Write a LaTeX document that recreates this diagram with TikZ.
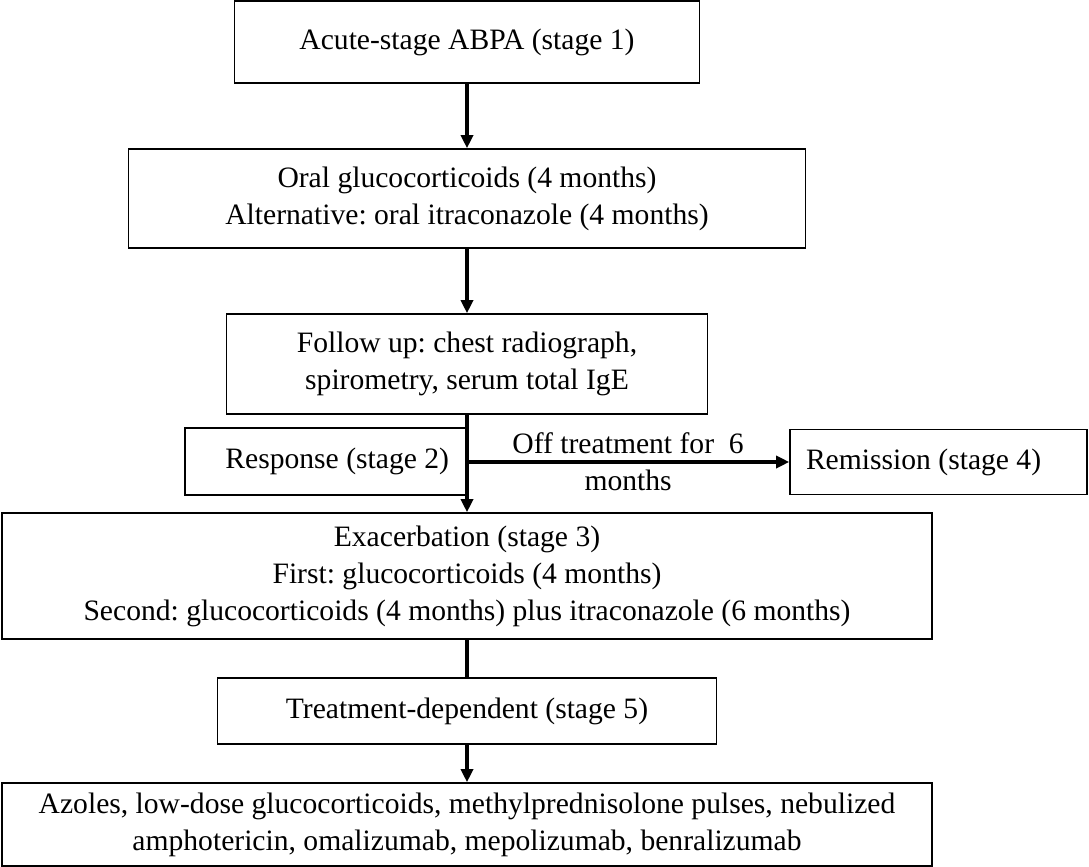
\documentclass[tikz,border=0pt]{standalone}
\usepackage{fontspec}
\setmainfont{Liberation Serif}
\usetikzlibrary{arrows.meta}
\frenchspacing

\begin{document}
\begin{tikzpicture}[x=0.5pt, y=-0.5pt,
				   every node/.style={font=\fontsize{14.8}{18.5}\selectfont, align=center},
				   stagebox/.style={draw=black, line width=0.8pt, inner sep=0pt},
				   flow/.style={line width=1.8pt, -{Triangle[length=6.5pt, width=6pt]}},
				   link/.style={line width=1.8pt}]
\useasboundingbox (0,0) rectangle (1089,867);
\node[stagebox, minimum width=232.5pt, minimum height=41pt] (acute) at (467,42) {Acute-stage ABPA (stage 1)};
\node[stagebox, minimum width=338.5pt, minimum height=49.5pt] (oral) at (467,198.5) {Oral glucocorticoids (4 months)\\Alternative: oral itraconazole (4 months)};
\node[stagebox, minimum width=240.5pt, minimum height=50pt] (follow) at (467,364) {Follow up: chest radiograph,\\spirometry, serum total IgE};
\node[stagebox, text width=123pt, inner xsep=9pt, align=flush right, minimum height=33.5pt] (response) at (326,461.5) {Response (stage 2)};
\node[stagebox, text width=132.5pt, inner xsep=8pt, align=flush left, minimum height=32.5pt] (remission) at (938.5,462) {Remission (stage 4)};
\node[stagebox, minimum width=465pt, minimum height=63pt] (exac) at (467,576) {Exacerbation (stage 3)\\First: glucocorticoids (4 months)\\Second: glucocorticoids (4 months) plus itraconazole (6 months)};
\node[stagebox, minimum width=249.5pt, minimum height=33pt] (treat) at (467,711) {Treatment-dependent (stage 5)};
\node[stagebox, minimum width=465pt, minimum height=41.5pt] (azoles) at (467,824.5) {Azoles, low-dose glucocorticoids, methylprednisolone pulses, nebulized\\amphotericin, omalizumab, mepolizumab, benralizumab};
\coordinate (split) at (follow.south |- remission.west);

\draw[flow] (acute) -- (oral);
\draw[flow] (oral) -- (follow);
\draw[flow] (follow) -- (exac);
\draw[flow] (split) -- node (offlabel) {Off treatment for~~6\\months} (remission);
\draw[link] (exac) -- (treat);
\draw[flow] (treat) -- (azoles);
\end{tikzpicture}
\end{document}
